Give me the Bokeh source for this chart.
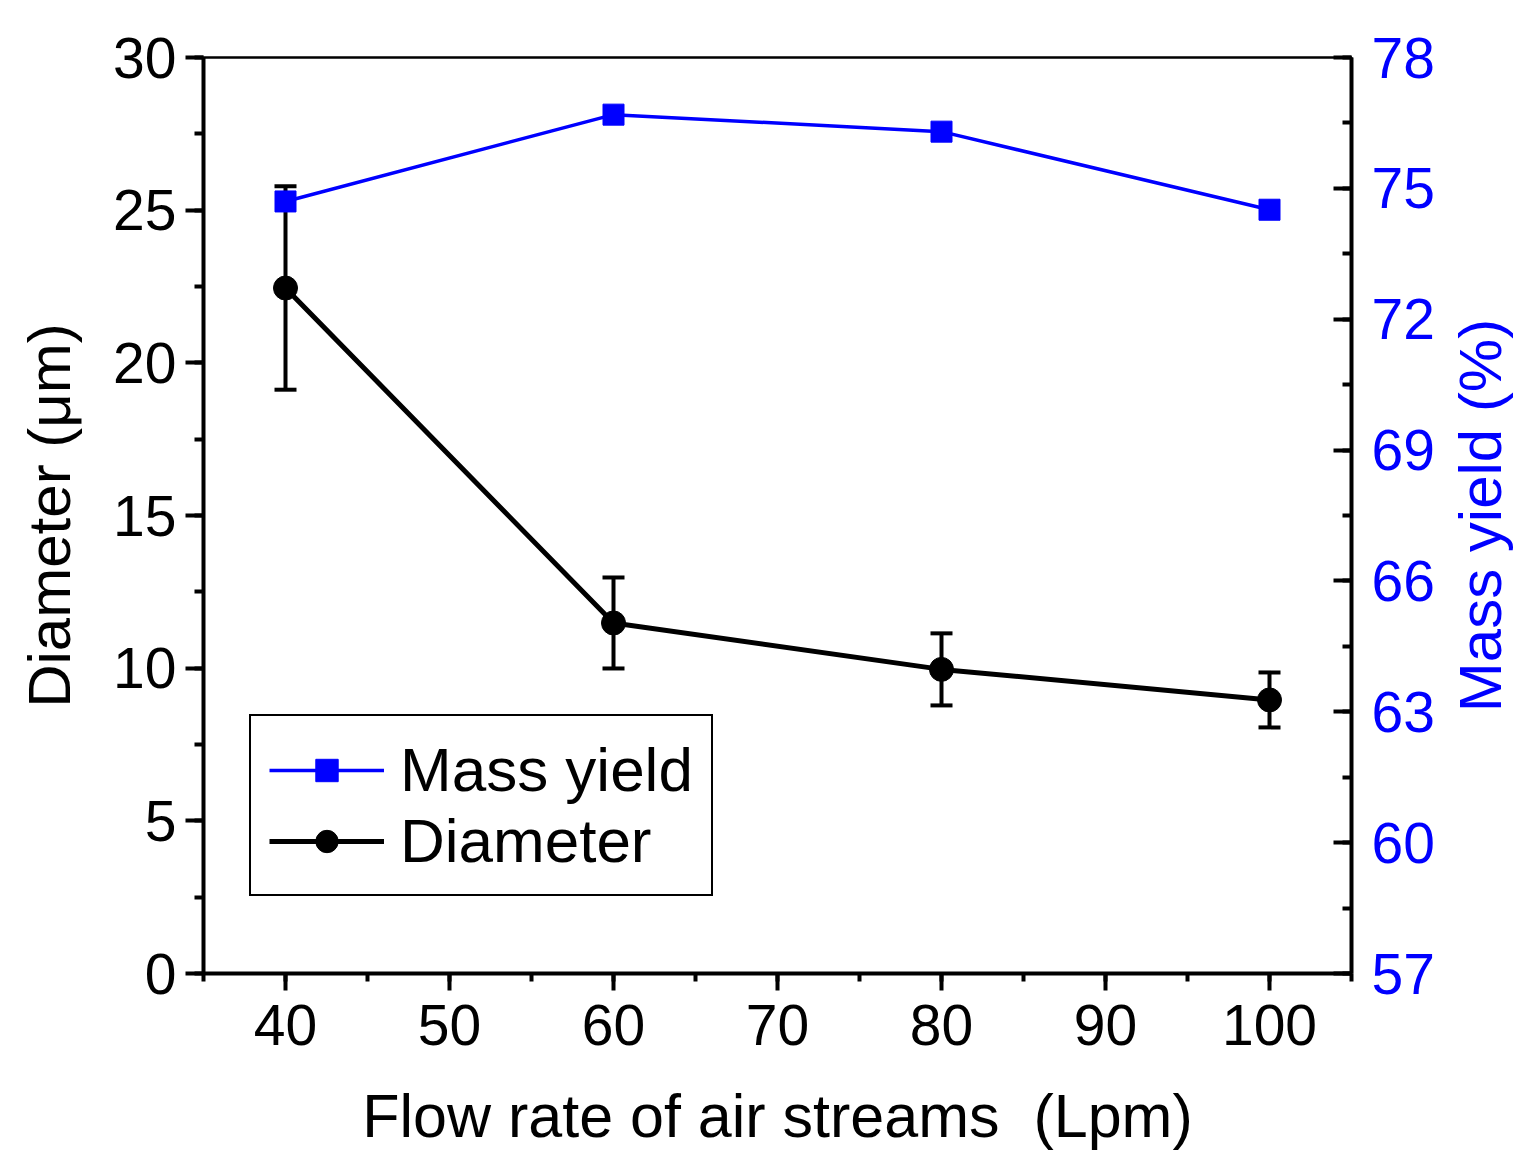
import math
from bokeh.plotting import figure
from bokeh.layouts import row
from bokeh.models import (Range1d, LinearAxis, SingleIntervalTicker, Whisker, TeeHead,
                          ColumnDataSource, Legend, LegendItem, Label)
from bokeh.embed import file_html
from bokeh.resources import INLINE

# ---- data ----
flow = [40, 60, 80, 100]
diameter = [22.45, 11.48, 9.96, 8.96]
diameter_err = [3.33, 1.49, 1.18, 0.90]
mass_yield = [74.70, 76.69, 76.30, 74.51]

x_ticks_interval = 10
left_ticks_interval = 5
right_ticks_interval = 3

FONT = "Liberation Sans"
BLUE = "#0000FF"

W_MAIN, W_SIDE, H = 1440, 79, 1158
p = figure(width=W_MAIN, height=H, x_range=Range1d(35, 105), y_range=Range1d(0, 30),
           output_backend="svg", toolbar_location=None,
           min_border_left=203, min_border_right=W_MAIN - 1351, min_border_top=57,
           min_border_bottom=H - 973)
p.extra_y_ranges = {"my": Range1d(57, 78)}
p.grid.visible = False
p.outline_line_color = "black"
p.outline_line_width = 2.5
p.outline_line_alpha = 1
p.background_fill_color = "white"
p.border_fill_color = "white"

def style_axis(ax, color_labels="black"):
    ax.axis_line_width = 4
    ax.axis_line_color = "black"
    ax.major_tick_line_width = 4
    ax.minor_tick_line_width = 4
    ax.major_tick_line_color = "black"
    ax.minor_tick_line_color = "black"
    ax.major_label_text_font = FONT
    ax.major_label_text_font_size = "57px"
    ax.major_label_text_color = color_labels
    ax.axis_label_text_font = FONT
    ax.axis_label_text_font_size = "60px"
    ax.axis_label_text_font_style = "normal"
    ax.axis_label_text_color = color_labels

xa = p.xaxis[0]
xa.ticker = SingleIntervalTicker(interval=x_ticks_interval, num_minor_ticks=2)
style_axis(xa)
xa.axis_label_text_font_size = "61px"
xa.major_tick_out = 17
xa.major_tick_in = 0
xa.minor_tick_out = 8
xa.minor_tick_in = 0
xa.major_label_standoff = 14
xa.axis_label = "Flow rate of air streams \u00a0(Lpm)"
xa.axis_label_standoff = 34

ya = p.yaxis[0]
ya.ticker = SingleIntervalTicker(interval=left_ticks_interval, num_minor_ticks=2)
style_axis(ya)
ya.major_tick_out = 18
ya.major_tick_in = 0
ya.minor_tick_out = 9
ya.minor_tick_in = 0
ya.major_label_standoff = 9
ya.axis_label = "Diameter (μm)"
ya.axis_label_standoff = 27

ra = LinearAxis(y_range_name="my",
                ticker=SingleIntervalTicker(interval=right_ticks_interval, num_minor_ticks=2))
style_axis(ra, BLUE)
ra.major_tick_out = 0
ra.major_tick_in = 18
ra.minor_tick_out = 0
ra.minor_tick_in = 9
ra.major_label_standoff = 20
p.add_layout(ra, "right")

# ---- diameter series ----
src_d = ColumnDataSource(dict(x=flow, y=diameter,
                              upper=[d + e for d, e in zip(diameter, diameter_err)],
                              lower=[d - e for d, e in zip(diameter, diameter_err)]))
d_line = p.line("x", "y", source=src_d, line_color="black", line_width=5)
wh = Whisker(base="x", upper="upper", lower="lower", source=src_d,
             line_color="black", line_width=4,
             upper_head=TeeHead(size=22, line_width=4, line_color="black"),
             lower_head=TeeHead(size=22, line_width=4, line_color="black"))
p.add_layout(wh)
d_pts = p.scatter("x", "y", source=src_d, marker="circle", size=24,
                  fill_color="black", line_color="black")

# ---- mass yield series ----
src_m = ColumnDataSource(dict(x=flow, y=mass_yield))
m_line = p.line("x", "y", source=src_m, y_range_name="my", line_color=BLUE, line_width=3.5)
m_pts = p.scatter("x", "y", source=src_m, y_range_name="my", marker="square", size=21,
                  fill_color=BLUE, line_color=BLUE)

legend = Legend(items=[LegendItem(label="Mass yield", renderers=[m_line, m_pts]),
                       LegendItem(label="Diameter", renderers=[d_line, d_pts])],
                location=(46, 77))
legend.border_line_color = "black"
legend.border_line_width = 2
legend.border_line_alpha = 1
legend.background_fill_color = "white"
legend.background_fill_alpha = 1
legend.label_text_font = FONT
legend.label_text_font_size = "62px"
legend.label_text_color = "black"
legend.glyph_width = 115
legend.glyph_height = 56
legend.label_height = 56
legend.spacing = 0
legend.padding = 18
legend.margin = 0
legend.label_standoff = 16
p.add_layout(legend)

# ---- side strip holding the right-axis title (reads bottom-to-top) ----
side = figure(width=W_SIDE, height=H, x_range=Range1d(0, W_SIDE), y_range=Range1d(0, H),
              output_backend="svg", toolbar_location=None,
              x_axis_location=None, y_axis_location=None, min_border=0)
side.grid.visible = False
side.outline_line_color = None
side.background_fill_color = "white"
side.border_fill_color = "white"
side.add_layout(Label(x=40, y=579, angle=math.pi / 2, text="Mass yield (%)",
                      text_font=FONT, text_font_size="60px", text_color=BLUE,
                      text_align="center", text_baseline="alphabetic"))

layout = row(p, side, spacing=0)
open("out.html", "w").write(file_html(layout, INLINE))
